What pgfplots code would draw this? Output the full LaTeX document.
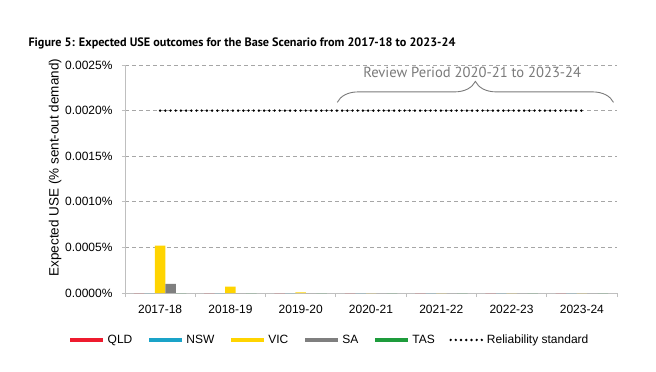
\documentclass[border=0pt]{standalone}
\usepackage{pgfplots}
\pgfplotsset{compat=1.18}
\usepackage{fontspec}
\setmainfont{Liberation Sans}
\newfontfamily\titlefont{PT Sans}
\usetikzlibrary{decorations.pathreplacing}
\definecolor{qld}{HTML}{EE1B2E}
\definecolor{nsw}{HTML}{1AA3C8}
\definecolor{vic}{HTML}{FFD400}
\definecolor{sa}{HTML}{7F7F7F}
\definecolor{tas}{HTML}{1E9C3C}
\definecolor{axgray}{HTML}{BFBFBF}
\definecolor{gridgray}{HTML}{A6A6A6}
\definecolor{revgray}{HTML}{7A7A7A}
\begin{document}
\begin{tikzpicture}
\useasboundingbox (-125bp,-79bp) rectangle (531bp,293bp);
\begin{axis}[
  at={(0,0)}, anchor=south west,
  scale only axis, width=492bp, height=228bp,
  xmin=-0.5, xmax=6.5, ymin=0, ymax=0.0025,
  clip=false,
  axis x line*=bottom, axis y line*=left,
  axis line style={draw=axgray, line width=0.8bp},
  xtick={0,...,6},
  xticklabels={2017-18,2018-19,2019-20,2020-21,2021-22,2022-23,2023-24},
  major x tick style={draw=none},
  minor xtick={-0.5,0.5,...,6.5},
  minor tick length=4bp,
  major tick length=3bp,
  tick align=outside,
  tick style={draw=axgray, line width=0.8bp},
  ytick={0,0.0005,0.001,0.0015,0.002,0.0025},
  yticklabels={0.0000\%,0.0005\%,0.0010\%,0.0015\%,0.0020\%,0.0025\%},
  scaled y ticks=false,
  ymajorgrids,
  y grid style={draw=gridgray, line width=0.8bp, dash pattern=on 4bp off 3bp},
  ticklabel style={font=\fontsize{12bp}{14bp}\selectfont},
  yticklabel style={xshift=-6bp},
  xticklabel style={yshift=-6bp},
  ylabel={Expected USE (\% sent-out demand)},
  ylabel style={font=\fontsize{13.5bp}{16bp}\selectfont, at={(axis description cs:-0.142,0.55)}, rotate=0, anchor=center},
  legend columns=6,
  legend image code/.code={\draw[#1] (0bp,0bp) -- (33bp,0bp);},
  legend style={at={(axis description cs:-0.122,-0.206)}, anchor=west, draw=none, fill=none,
    font=\fontsize{12bp}{14bp}\selectfont,
    nodes={inner xsep=2bp, inner ysep=1bp},
    /tikz/every even column/.append style={column sep=12.5bp}},
]
\addlegendimage{line width=4.5bp, color=qld}
\addlegendentry{QLD}
\addlegendimage{line width=4.5bp, color=nsw}
\addlegendentry{NSW}
\addlegendimage{line width=4.5bp, color=vic}
\addlegendentry{VIC}
\addlegendimage{line width=4.5bp, color=sa}
\addlegendentry{SA}
\addlegendimage{line width=4.5bp, color=tas}
\addlegendentry{TAS}
\addlegendimage{black, line width=2.7bp, dash pattern=on 0bp off 5.2bp, line cap=round}
\addlegendentry{Reliability standard}
% QLD
\addplot[ybar, bar width=10.5bp, bar shift=-21bp, fill=qld, draw=none, forget plot]
  coordinates {(0,0) (1,0) (2,0) (3,0) (4,0) (5,0) (6,0)};
% NSW
\addplot[ybar, bar width=10.5bp, bar shift=-10.5bp, fill=nsw, draw=none, forget plot]
  coordinates {(0,0) (1,0) (2,0) (3,0) (4,0) (5,0) (6,0)};
% VIC
\addplot[ybar, bar width=10.5bp, bar shift=0bp, fill=vic, draw=none, forget plot]
  coordinates {(0,0.00052) (1,0.00007) (2,0.000008) (3,0) (4,0) (5,0) (6,0)};
% SA
\addplot[ybar, bar width=10.5bp, bar shift=10.5bp, fill=sa, draw=none, forget plot]
  coordinates {(0,0.0001) (1,0) (2,0) (3,0) (4,0) (5,0) (6,0)};
% TAS
\addplot[ybar, bar width=10.5bp, bar shift=21bp, fill=tas, draw=none, forget plot]
  coordinates {(0,0) (1,0) (2,0) (3,0) (4,0) (5,0) (6,0)};
% Reliability standard
\addplot[sharp plot, black, line width=2.7bp, dash pattern=on 0bp off 5.2bp, line cap=round, forget plot]
  coordinates {(0,0.002) (6,0.002)};
\draw[revgray, line width=0.9bp, decorate, decoration={brace, amplitude=21bp}]
  (axis cs:2.52,0.00209) -- (axis cs:6.45,0.00209);
\node[fill=white, inner xsep=2bp, inner ysep=1bp, text=revgray, font=\titlefont\fontsize{14.6bp}{17bp}\selectfont]
  at (axis cs:4.44,0.002423) {Review Period 2020-21 to 2023-24};
\end{axis}
\node[anchor=base west, font=\titlefont\bfseries\fontsize{12.2bp}{14bp}\selectfont]
  at (-100bp,246bp) {Figure 5: Expected USE outcomes for the Base Scenario from 2017-18 to 2023-24};
\end{tikzpicture}
\end{document}
